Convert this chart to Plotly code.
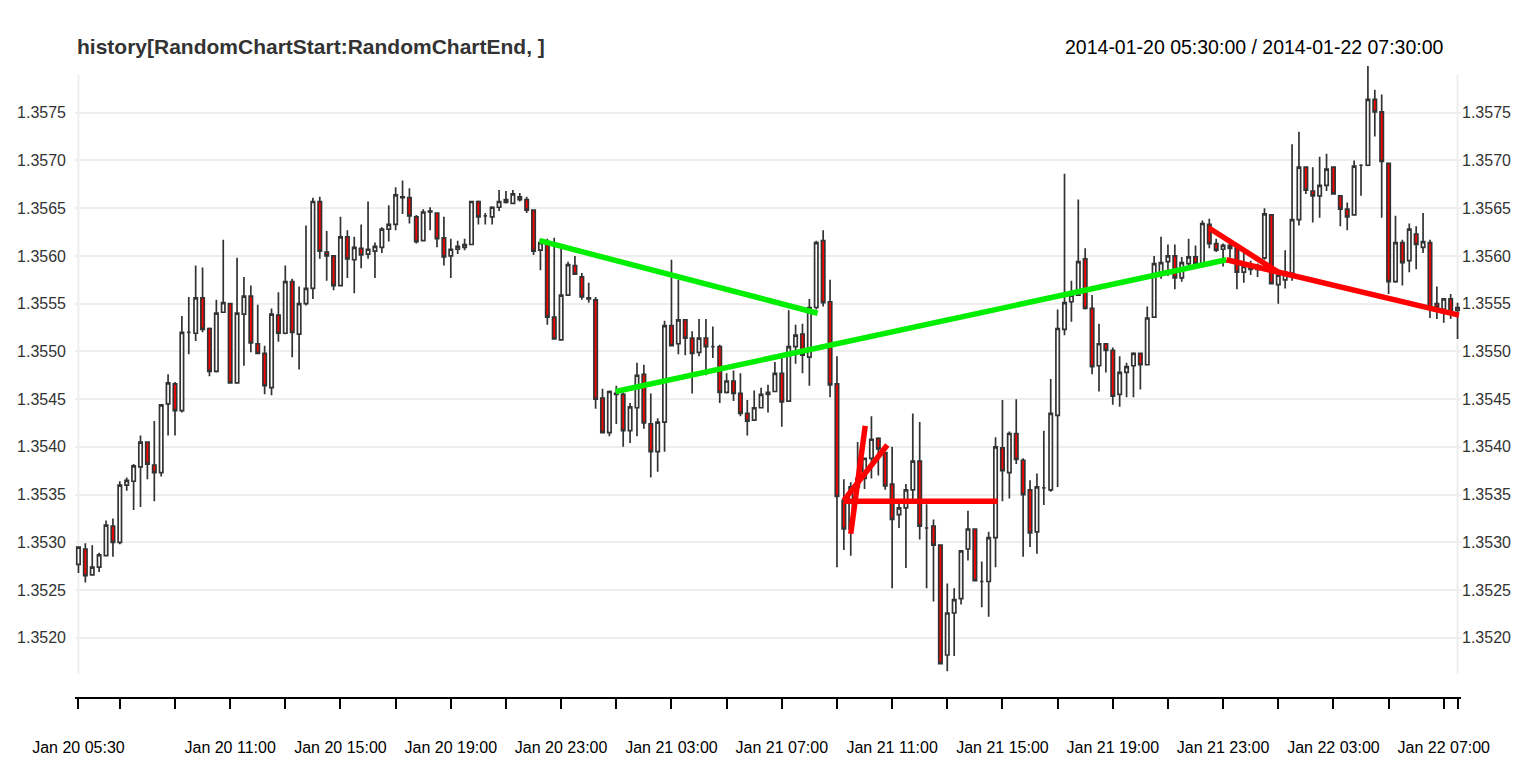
import plotly.graph_objects as go

# 15-minute bars, 2014-01-20 05:30 -> 2014-01-22 07:30 (bar index 0..200)
opens = [1.35277, 1.35293, 1.35266, 1.35274, 1.35286, 1.35317, 1.35300, 1.35360, 1.35364, 1.35379,
         1.35405, 1.35381, 1.35373, 1.35445, 1.35466, 1.35438, 1.35520, 1.35519, 1.35556, 1.35524,
         1.35479, 1.35541, 1.35550, 1.35467, 1.35539, 1.35558, 1.35508, 1.35498, 1.35462, 1.35538,
         1.35519, 1.35573, 1.35518, 1.35550, 1.35566, 1.35657, 1.35604, 1.35600, 1.35569, 1.35620,
         1.35596, 1.35608, 1.35602, 1.35605, 1.35609, 1.35628, 1.35633, 1.35662, 1.35661, 1.35641,
         1.35616, 1.35647, 1.35645, 1.35619, 1.35600, 1.35607, 1.35609, 1.35612, 1.35657, 1.35642,
         1.35641, 1.35651, 1.35659, 1.35655, 1.35662, 1.35659, 1.35648, 1.35606, 1.35614, 1.35536,
         1.35512, 1.35559, 1.35590, 1.35578, 1.35556, 1.35554, 1.35451, 1.35415, 1.35456, 1.35455,
         1.35417, 1.35441, 1.35476, 1.35424, 1.35395, 1.35426, 1.35527, 1.35508, 1.35533, 1.35514,
         1.35499, 1.35514, 1.35505, 1.35505, 1.35457, 1.35469, 1.35456, 1.35435, 1.35428, 1.35441,
         1.35455, 1.35458, 1.35477, 1.35448, 1.35505, 1.35518, 1.35494, 1.35546, 1.35616, 1.35552,
         1.35466, 1.35344, 1.35314, 1.35358, 1.35367, 1.35388, 1.35409, 1.35394, 1.35361, 1.35329,
         1.35336, 1.35355, 1.35385, 1.35315, 1.35317, 1.35297, 1.35182, 1.35226, 1.35241, 1.35293,
         1.35314, 1.35259, 1.35259, 1.35305, 1.35399, 1.35373, 1.35414, 1.35386, 1.35355, 1.35311,
         1.35357, 1.35355, 1.35433, 1.35523, 1.35552, 1.35559, 1.35597, 1.35545, 1.35485, 1.35508,
         1.35501, 1.35455, 1.35478, 1.35485, 1.35498, 1.35486, 1.35536, 1.35580, 1.35594, 1.35600,
         1.35577, 1.35592, 1.35599, 1.35592, 1.35633, 1.35613, 1.35607, 1.35611, 1.35608, 1.35583,
         1.35589, 1.35586, 1.35598, 1.35643, 1.35570, 1.35575, 1.35582, 1.35638, 1.35693, 1.35668,
         1.35663, 1.35674, 1.35693, 1.35663, 1.35649, 1.35643, 1.35695, 1.35695, 1.35764, 1.35751,
         1.35697, 1.35573, 1.35614, 1.35595, 1.35623, 1.35609, 1.35614, 1.35550, 1.35544, 1.35555,
         1.35543]
highs = [1.35295, 1.35299, 1.35297, 1.35289, 1.35323, 1.35325, 1.35364, 1.35368, 1.35382, 1.35412,
         1.35405, 1.35427, 1.35444, 1.35476, 1.35468, 1.35537, 1.35557, 1.35590, 1.35588, 1.35525,
         1.35554, 1.35617, 1.35550, 1.35598, 1.35578, 1.35569, 1.35549, 1.35506, 1.35545, 1.35562,
         1.35590, 1.35576, 1.35568, 1.35632, 1.35661, 1.35662, 1.35626, 1.35600, 1.35641, 1.35627,
         1.35620, 1.35633, 1.35657, 1.35614, 1.35630, 1.35653, 1.35672, 1.35679, 1.35671, 1.35643,
         1.35649, 1.35651, 1.35645, 1.35641, 1.35618, 1.35616, 1.35618, 1.35657, 1.35658, 1.35645,
         1.35652, 1.35669, 1.35668, 1.35669, 1.35666, 1.35662, 1.35649, 1.35618, 1.35618, 1.35619,
         1.35609, 1.35594, 1.35600, 1.35582, 1.35572, 1.35557, 1.35461, 1.35459, 1.35464, 1.35457,
         1.35446, 1.35488, 1.35486, 1.35456, 1.35430, 1.35532, 1.35596, 1.35575, 1.35533, 1.35521,
         1.35534, 1.35534, 1.35526, 1.35507, 1.35477, 1.35480, 1.35477, 1.35449, 1.35459, 1.35462,
         1.35465, 1.35489, 1.35493, 1.35543, 1.35528, 1.35529, 1.35555, 1.35616, 1.35627, 1.35575,
         1.35495, 1.35366, 1.35363, 1.35405, 1.35388, 1.35432, 1.35410, 1.35394, 1.35400, 1.35341,
         1.35361, 1.35435, 1.35426, 1.35340, 1.35324, 1.35297, 1.35257, 1.35252, 1.35291, 1.35333,
         1.35314, 1.35280, 1.35311, 1.35410, 1.35449, 1.35416, 1.35450, 1.35388, 1.35365, 1.35372,
         1.35417, 1.35471, 1.35544, 1.35686, 1.35574, 1.35659, 1.35608, 1.35559, 1.35529, 1.35508,
         1.35504, 1.35495, 1.35488, 1.35499, 1.35498, 1.35547, 1.35600, 1.35620, 1.35612, 1.35612,
         1.35599, 1.35618, 1.35611, 1.35637, 1.35639, 1.35618, 1.35613, 1.35615, 1.35608, 1.35603,
         1.35595, 1.35592, 1.35650, 1.35643, 1.35585, 1.35606, 1.35717, 1.35730, 1.35694, 1.35693,
         1.35704, 1.35707, 1.35693, 1.35663, 1.35656, 1.35700, 1.35696, 1.35799, 1.35774, 1.35769,
         1.35697, 1.35642, 1.35617, 1.35634, 1.35631, 1.35645, 1.35617, 1.35568, 1.35555, 1.35560,
         1.35551]
lows = [1.35268, 1.35258, 1.35266, 1.35269, 1.35286, 1.35285, 1.35298, 1.35354, 1.35334, 1.35337,
        1.35366, 1.35343, 1.35369, 1.35412, 1.35412, 1.35436, 1.35497, 1.35511, 1.35520, 1.35474,
        1.35478, 1.35541, 1.35467, 1.35467, 1.35485, 1.35499, 1.35497, 1.35455, 1.35454, 1.35510,
        1.35518, 1.35494, 1.35481, 1.35548, 1.35555, 1.35597, 1.35574, 1.35564, 1.35568, 1.35577,
        1.35561, 1.35587, 1.35597, 1.35577, 1.35603, 1.35615, 1.35627, 1.35644, 1.35634, 1.35613,
        1.35616, 1.35627, 1.35609, 1.35590, 1.35577, 1.35602, 1.35606, 1.35612, 1.35633, 1.35633,
        1.35633, 1.35647, 1.35655, 1.35655, 1.35657, 1.35645, 1.35601, 1.35585, 1.35528, 1.35513,
        1.35512, 1.35559, 1.35581, 1.35554, 1.35551, 1.35440, 1.35415, 1.35411, 1.35424, 1.35400,
        1.35404, 1.35411, 1.35419, 1.35368, 1.35374, 1.35395, 1.35506, 1.35497, 1.35496, 1.35456,
        1.35495, 1.35475, 1.35493, 1.35446, 1.35456, 1.35448, 1.35432, 1.35412, 1.35427, 1.35441,
        1.35436, 1.35458, 1.35421, 1.35448, 1.35487, 1.35477, 1.35464, 1.35544, 1.35547, 1.35452,
        1.35274, 1.35292, 1.35286, 1.35356, 1.35356, 1.35367, 1.35370, 1.35355, 1.35252, 1.35315,
        1.35273, 1.35345, 1.35303, 1.35252, 1.35238, 1.35172, 1.35165, 1.35181, 1.35235, 1.35281,
        1.35260, 1.35232, 1.35222, 1.35274, 1.35343, 1.35346, 1.35382, 1.35285, 1.35295, 1.35288,
        1.35339, 1.35353, 1.35358, 1.35517, 1.35531, 1.35559, 1.35544, 1.35476, 1.35458, 1.35478,
        1.35444, 1.35442, 1.35452, 1.35452, 1.35460, 1.35486, 1.35536, 1.35576, 1.35579, 1.35565,
        1.35573, 1.35586, 1.35590, 1.35592, 1.35608, 1.35604, 1.35589, 1.35598, 1.35565, 1.35572,
        1.35580, 1.35578, 1.35596, 1.35571, 1.35550, 1.35566, 1.35574, 1.35632, 1.35665, 1.35635,
        1.35640, 1.35668, 1.35665, 1.35631, 1.35627, 1.35643, 1.35663, 1.35694, 1.35725, 1.35640,
        1.35560, 1.35572, 1.35569, 1.35583, 1.35586, 1.35603, 1.35535, 1.35534, 1.35530, 1.35534,
        1.35513]
closes = [1.35295, 1.35265, 1.35274, 1.35287, 1.35318, 1.35300, 1.35360, 1.35365, 1.35380, 1.35405,
          1.35382, 1.35373, 1.35444, 1.35467, 1.35438, 1.35520, 1.35520, 1.35556, 1.35523, 1.35479,
          1.35540, 1.35551, 1.35467, 1.35540, 1.35558, 1.35509, 1.35498, 1.35464, 1.35539, 1.35519,
          1.35573, 1.35520, 1.35550, 1.35566, 1.35657, 1.35605, 1.35600, 1.35569, 1.35620, 1.35597,
          1.35609, 1.35601, 1.35607, 1.35610, 1.35628, 1.35633, 1.35664, 1.35661, 1.35642, 1.35615,
          1.35646, 1.35646, 1.35618, 1.35599, 1.35607, 1.35610, 1.35612, 1.35657, 1.35641, 1.35642,
          1.35651, 1.35657, 1.35656, 1.35665, 1.35659, 1.35648, 1.35605, 1.35614, 1.35536, 1.35513,
          1.35559, 1.35591, 1.35581, 1.35557, 1.35555, 1.35450, 1.35415, 1.35458, 1.35455, 1.35417,
          1.35442, 1.35475, 1.35425, 1.35395, 1.35426, 1.35527, 1.35506, 1.35533, 1.35514, 1.35498,
          1.35514, 1.35505, 1.35505, 1.35457, 1.35469, 1.35456, 1.35435, 1.35427, 1.35441, 1.35455,
          1.35457, 1.35477, 1.35447, 1.35505, 1.35517, 1.35496, 1.35546, 1.35614, 1.35551, 1.35465,
          1.35348, 1.35314, 1.35358, 1.35367, 1.35388, 1.35408, 1.35398, 1.35359, 1.35324, 1.35336,
          1.35355, 1.35385, 1.35317, 1.35315, 1.35297, 1.35173, 1.35226, 1.35240, 1.35291, 1.35314,
          1.35260, 1.35259, 1.35305, 1.35400, 1.35375, 1.35414, 1.35387, 1.35350, 1.35310, 1.35358,
          1.35357, 1.35435, 1.35524, 1.35551, 1.35559, 1.35594, 1.35545, 1.35484, 1.35508, 1.35501,
          1.35453, 1.35478, 1.35484, 1.35498, 1.35486, 1.35535, 1.35592, 1.35593, 1.35600, 1.35577,
          1.35593, 1.35599, 1.35592, 1.35634, 1.35613, 1.35606, 1.35611, 1.35608, 1.35583, 1.35589,
          1.35586, 1.35590, 1.35644, 1.35571, 1.35580, 1.35583, 1.35638, 1.35693, 1.35669, 1.35663,
          1.35674, 1.35691, 1.35665, 1.35649, 1.35641, 1.35694, 1.35695, 1.35764, 1.35751, 1.35699,
          1.35573, 1.35614, 1.35593, 1.35628, 1.35612, 1.35615, 1.35545, 1.35546, 1.35555, 1.35540,
          1.35546]
bar_index = list(range(len(closes)))

# x-axis ticks (bar index) and their labels
tick_idx = [0, 6, 14, 22, 30, 38, 46, 54, 62, 70, 78, 86, 94, 102, 110, 118, 126,
            134, 142, 150, 158, 166, 174, 182, 190, 198, 200]
tick_text = ["Jan 20 05:30", "", "", "Jan 20 11:00", "", "Jan 20 15:00", "", "Jan 20 19:00", "",
             "Jan 20 23:00", "", "Jan 21 03:00", "", "Jan 21 07:00", "", "Jan 21 11:00", "",
             "Jan 21 15:00", "", "Jan 21 19:00", "", "Jan 21 23:00", "", "Jan 22 03:00", "",
             "Jan 22 07:00", ""]
price_ticks = [1.3520, 1.3525, 1.3530, 1.3535, 1.3540, 1.3545, 1.3550, 1.3555, 1.3560, 1.3565,
               1.3570, 1.3575]
price_labels = ["1.3520", "1.3525", "1.3530", "1.3535", "1.3540", "1.3545", "1.3550", "1.3555",
                "1.3560", "1.3565", "1.3570", "1.3575"]

# trend lines drawn over the bars (bar index / price)
line_x0 = [66.9, 77.9, 112.0, 111.0, 111.0, 164.0, 166.5]
line_y0 = [1.35616, 1.35458, 1.35309, 1.35344, 1.35343, 1.35629, 1.35596]
line_x1 = [107.2, 166.5, 114.1, 117.3, 133.3, 174.0, 200.2]
line_y1 = [1.35540, 1.35596, 1.35422, 1.35402, 1.35343, 1.35583, 1.35538]
line_col = ["#00ee00", "#00ee00", "#ff0000", "#ff0000", "#ff0000", "#ff0000", "#ff0000"]

fig = go.Figure()

fig.add_trace(go.Candlestick(
    x=bar_index, open=opens, high=highs, low=lows, close=closes,
    increasing=dict(fillcolor="white", line=dict(color="#333333", width=1.7)),
    decreasing=dict(fillcolor="#ff0000", line=dict(color="#333333", width=1.7)),
    whiskerwidth=0, showlegend=False, hoverinfo="skip"))

for i in range(len(line_x0)):
    fig.add_trace(go.Scatter(x=[line_x0[i], line_x1[i]], y=[line_y0[i], line_y1[i]],
                             mode="lines", line=dict(color=line_col[i], width=5.5),
                             showlegend=False, hoverinfo="skip"))

# invisible trace to carry the right-hand price axis
fig.add_trace(go.Scatter(x=[0], y=[1.3550], yaxis="y2", mode="markers",
                         marker=dict(opacity=0), showlegend=False, hoverinfo="skip"))

# light frame on both sides of the bars
for xv in [0, 200]:
    fig.add_shape(type="line", xref="x", yref="y", x0=xv, x1=xv, y0=1.35162, y1=1.35790,
                  line=dict(color="#eeeeee", width=2), layer="below")

yrange = [1.35138, 1.35800]
font = "Liberation Sans, Arial, sans-serif"

fig.update_layout(
    width=1536, height=768,
    margin=dict(l=75, r=75, t=65, b=71),
    paper_bgcolor="white", plot_bgcolor="white",
    font=dict(family=font, size=16, color="#333333"),
    boxgap=0.3,
    xaxis=dict(range=[-0.5, 200.5], rangeslider=dict(visible=False), showgrid=False,
               zeroline=False, showline=True, linecolor="black", linewidth=2,
               tickmode="array", tickvals=tick_idx, ticktext=tick_text,
               ticks="outside", ticklen=10, tickwidth=2, tickcolor="black",
               ticklabelstandoff=25, tickfont=dict(size=16, color="black")),
    yaxis=dict(range=yrange, showgrid=True, gridcolor="#eeeeee", gridwidth=2,
               zeroline=False, tickmode="array", tickvals=price_ticks, ticktext=price_labels,
               ticks="", ticklabelstandoff=8, tickfont=dict(size=16, color="#333333")),
    yaxis2=dict(range=yrange, overlaying="y", side="right", showgrid=False,
                zeroline=False, tickmode="array", tickvals=price_ticks, ticktext=price_labels,
                ticks="", ticklabelstandoff=0, tickfont=dict(size=16, color="#333333")),
    annotations=[
        dict(text="<b>history[RandomChartStart:RandomChartEnd, ]</b>", xref="x", yref="paper",
             x=-0.5, y=1.0285, xanchor="left", yanchor="middle", showarrow=False,
             font=dict(size=21, color="#333333", family=font)),
        dict(text="2014-01-20 05:30:00 / 2014-01-22 07:30:00", xref="x", yref="paper",
             x=198.3, y=1.0285, xanchor="right", yanchor="middle", showarrow=False,
             font=dict(size=19.5, color="black", family=font)),
    ],
)

fig.write_html("out.html", config={"displayModeBar": False},
               post_script="document.body.style.margin='0';")
